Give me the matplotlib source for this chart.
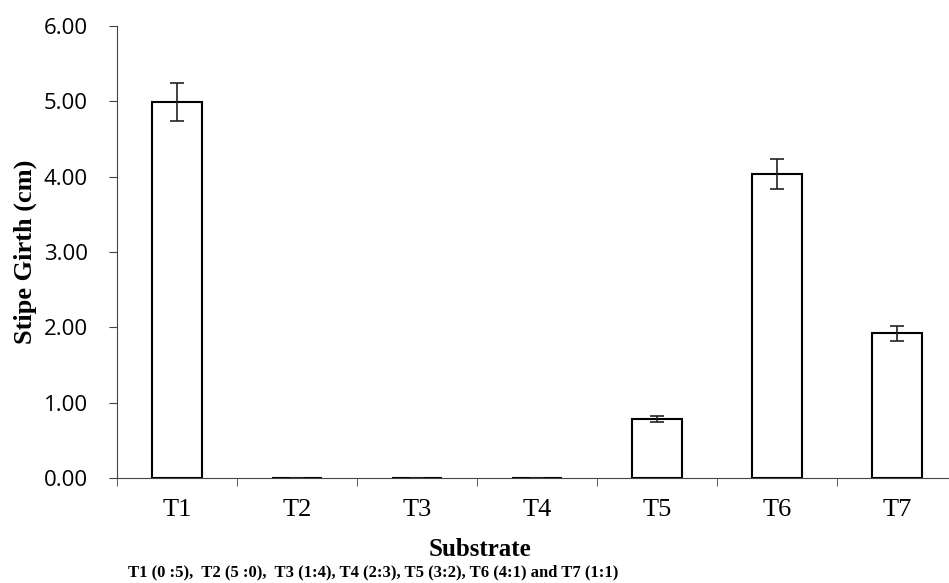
import matplotlib
matplotlib.use("Agg")
import matplotlib.pyplot as plt

# stipe girth per substrate treatment
treatments = ["T1", "T2", "T3", "T4", "T5", "T6", "T7"]
girth = [4.99, 0.0, 0.0, 0.0, 0.78, 4.03, 1.92]
err = [0.25, 0.0, 0.0, 0.0, 0.04, 0.20, 0.095]

W, H = 949, 583
fig = plt.figure(figsize=(W / 100, H / 100), dpi=100)
# plot area runs a little past the right edge, as in the original
ax = fig.add_axes([117 / W, 1 - 478 / H, 840 / W, 452 / H])

x = range(len(treatments))
ax.bar(x, girth, width=0.41, color="white", edgecolor="black", linewidth=1.5,
       yerr=err, capsize=5, error_kw=dict(elinewidth=1.2, capthick=1.2, ecolor="#222222"))

ax.set_xlim(-0.5, 6.5)
ax.set_ylim(0, 6)
ax.set_yticks([0, 1, 2, 3, 4, 5, 6])
ax.set_yticklabels(["%.2f" % v for v in [0, 1, 2, 3, 4, 5, 6]],
                   fontfamily="Open Sans", fontsize=16)
ax.set_xticks(x)
ax.set_xticklabels(treatments, fontfamily="Liberation Serif", fontsize=19)
# category boundary ticks on the x axis
ax.set_xticks([i + 0.5 for i in range(-1, 7)], minor=True)
ax.tick_params(axis="x", which="major", length=0, pad=15)
ax.tick_params(axis="x", which="minor", length=6, direction="out", color="#444444")
ax.tick_params(axis="y", length=6, direction="out", color="#444444", pad=15)

for s in ["top", "right"]:
    ax.spines[s].set_visible(False)
ax.spines["left"].set_color("#444444")
ax.spines["bottom"].set_color("#444444")

fig.text(25 / W, 1 - 252 / H, "Stipe Girth (cm)", rotation=90, ha="center", va="center",
         fontfamily="Liberation Serif", fontweight="bold", fontsize=19)
fig.text(480 / W, 1 - 549 / H, "Substrate", ha="center", va="center",
         fontfamily="Liberation Serif", fontweight="bold", fontsize=18)
fig.text(128 / W, 1 - 572 / H,
         "T1 (0 :5),  T2 (5 :0),  T3 (1:4), T4 (2:3), T5 (3:2), T6 (4:1) and T7 (1:1)",
         ha="left", va="center", fontfamily="Liberation Serif", fontweight="bold", fontsize=12)

fig.savefig("out.png", dpi=100)
